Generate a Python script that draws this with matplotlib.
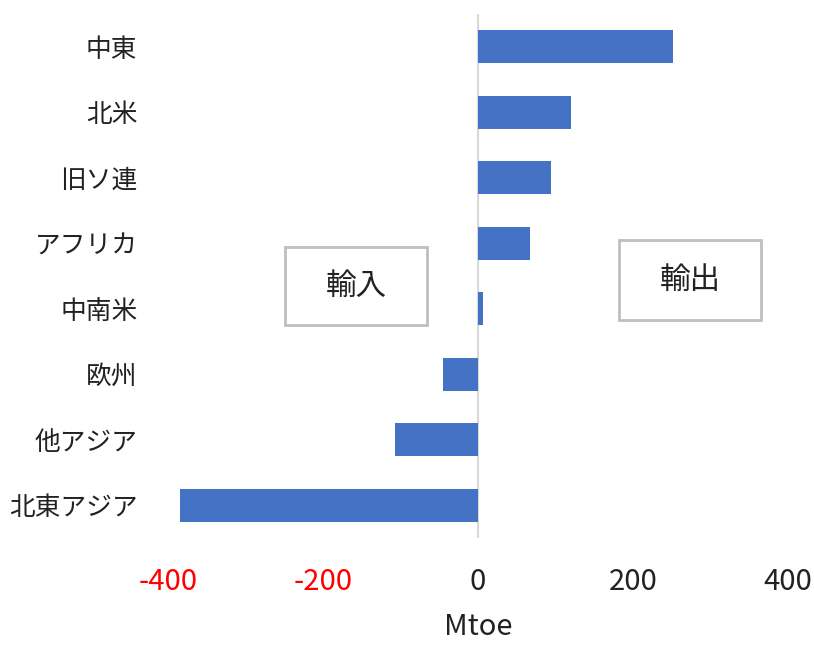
import matplotlib.pyplot as plt
import matplotlib.patches as patches

plt.rcParams['font.family'] = ['Noto Sans CJK JP', 'DejaVu Sans']

regions = ['中東', '北米', '旧ソ連', 'アフリカ', '中南米', '欧州', '他アジア', '北東アジア']
net_trade = [252, 120, 94, 67, 7, -45, -107, -385]
ticks = [-400, -200, 0, 200, 400]
box_labels = ['輸入', '輸出']

fig = plt.figure(figsize=(8.14, 6.47), dpi=100)
ax = fig.add_axes([168 / 814, 1 - 538 / 647, 620 / 814, 524 / 647])

ypos = list(range(len(regions)))
ax.barh(ypos, net_trade, height=0.5, color='#4472C4')
ax.set_ylim(len(regions) - 0.5, -0.5)
ax.set_xlim(-400, 400)
ax.axvline(0, color='#d9d9d9', lw=1.5, zorder=0)

ax.set_yticks(ypos)
ax.set_yticklabels(regions, fontsize=18.5)
ax.set_xticks(ticks)
ax.set_xticklabels([str(t) for t in ticks], fontsize=21)
for lab, t in zip(ax.get_xticklabels(), ticks):
    lab.set_color('#ff0000' if t < 0 else '#222222')
for lab in ax.get_yticklabels():
    lab.set_color('#222222')
ax.tick_params(axis='x', length=0, pad=21)
ax.tick_params(axis='y', length=0, pad=22)
ax.set_xlabel('Mtoe', fontsize=21, labelpad=11, color='#222222')
for s in ax.spines.values():
    s.set_visible(False)

# boxes with 輸入 / 輸出 (pixel coordinates of the figure)
boxes = [(285, 247, 427, 325), (619, 240, 761, 320)]
for (x0, y0, x1, y1), txt in zip(boxes, box_labels):
    rect = patches.Rectangle((x0 / 814, 1 - y1 / 647), (x1 - x0) / 814, (y1 - y0) / 647,
                             transform=fig.transFigure, fill=False,
                             edgecolor='#bfbfbf', lw=2)
    fig.patches.append(rect)
    fig.text((x0 + x1) / 2 / 814, 1 - (y0 + y1) / 2 / 647, txt,
             ha='center', va='center', fontsize=22, color='#222222')

fig.savefig('out.png', dpi=100)
